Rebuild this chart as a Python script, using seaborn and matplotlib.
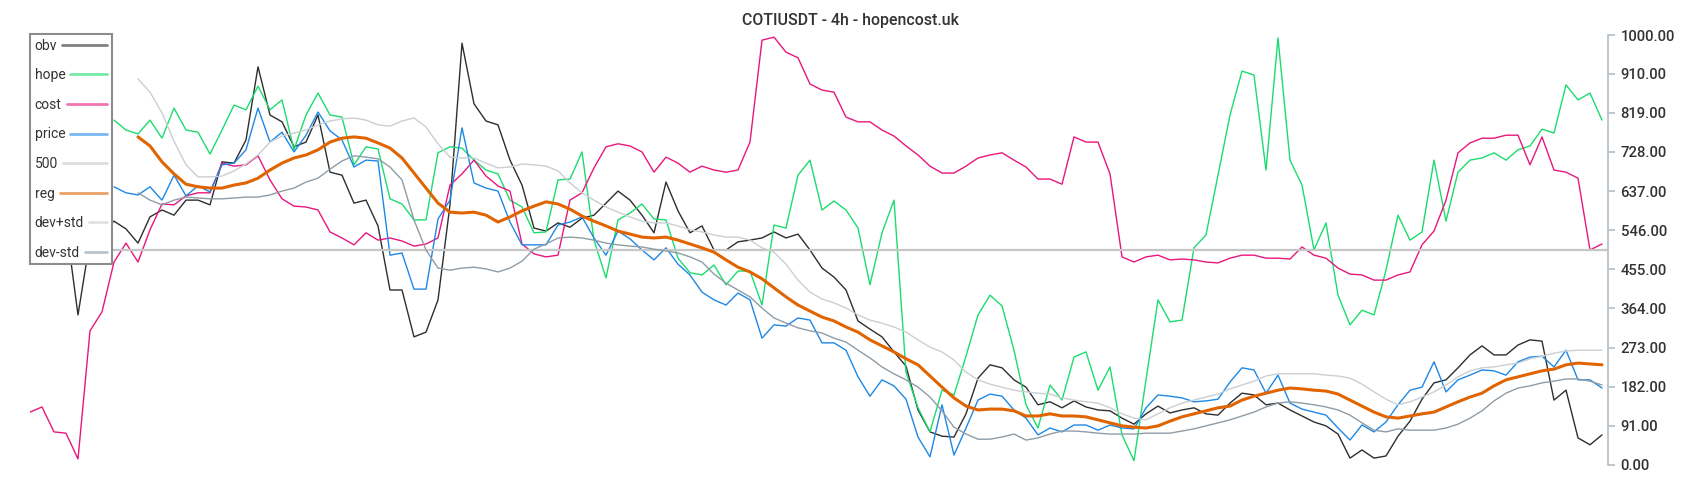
import numpy as np
import pandas as pd
import seaborn as sns
import matplotlib.pyplot as plt

# values, one sample per ~12px of time axis
cost = [123, 135, 77, 74, 14, 312, 356, 472, 516, 472, 547, 607,
        605, 626, 633, 633, 702, 695, 698, 719, 663, 619, 602, 600,
        593, 542, 528, 512, 540, 523, 528, 521, 509, 514, 528, 651,
        677, 709, 672, 649, 637, 514, 491, 484, 488, 616, 633, 691,
        740, 747, 742, 728, 681, 716, 702, 681, 695, 686, 681, 686,
        751, 988, 995, 960, 947, 886, 872, 867, 809, 798, 798, 779,
        765, 742, 721, 695, 679, 679, 695, 714, 721, 726, 709, 693,
        665, 665, 653, 763, 751, 751, 677, 484, 472, 484, 488, 477,
        479, 477, 472, 470, 481, 488, 488, 481, 481, 479, 507, 488,
        481, 458, 444, 442, 430, 430, 442, 449, 512, 544, 616, 726,
        749, 760, 760, 767, 767, 698, 763, 686, 681, 667, 500, 514]

hope = [None] * 7 + [
        802, 779, 770, 802, 760,
        830, 779, 774, 723, 779, 837, 826, 881, 826, 849, 733, 814,
        865, 814, 809, 698, 740, 735, 619, 607, 570, 570, 726, 740,
        737, 709, 686, 677, 616, 600, 540, 542, 663, 665, 728, 523,
        435, 570, 586, 607, 572, 570, 481, 447, 442, 465, 419, 451,
        451, 372, 558, 551, 674, 709, 593, 614, 593, 551, 419, 540,
        616, 216, 133, 77, 174, 163, 253, 349, 395, 370, 267, 140,
        86, 186, 151, 251, 263, 174, 228, 70, 10, 198, 384, 333,
        337, 505, 535, 674, 814, 916, 907, 686, 993, 709, 651, 500,
        563, 395, 326, 360, 349, 453, 581, 523, 542, 709, 567, 681,
        709, 714, 726, 709, 733, 742, 781, 772, 884, 849, 865, 802]

price = [None] * 7 + [
        647, 633, 628, 647, 616,
        674, 626, 649, 635, 698, 702, 733, 830, 751, 774, 728, 767,
        821, 777, 756, 693, 709, 707, 488, 493, 409, 409, 572, 616,
        784, 656, 644, 637, 565, 512, 512, 512, 558, 565, 577, 528,
        488, 544, 526, 500, 477, 505, 467, 442, 402, 384, 372, 400,
        384, 295, 326, 323, 342, 337, 284, 284, 267, 205, 160, 198,
        184, 153, 65, 19, 140, 23, 86, 151, 165, 160, 128, 109,
        70, 86, 77, 93, 93, 81, 93, 86, 84, 133, 163, 160,
        156, 147, 149, 153, 193, 226, 221, 167, 209, 144, 130, 123,
        116, 86, 58, 93, 77, 100, 140, 174, 181, 240, 170, 198,
        209, 221, 219, 209, 240, 251, 253, 228, 267, 198, 198, 179]

obv = [None, None, None, 560, 349, 523, 547, 567, 549, 516, 577, 593,
       581, 616, 616, 605, 705, 702, 756, 926, 814, 798, 740, 751,
       814, 681, 674, 609, 616, 556, 407, 407, 298, 309, 384, 605,
       981, 840, 800, 791, 709, 651, 551, 544, 563, 553, 574, 581,
       609, 637, 616, 581, 540, 658, 591, 540, 556, 500, 500, 519,
       523, 528, 542, 528, 537, 500, 458, 437, 407, 335, 316, 298,
       263, 230, 128, 77, 67, 65, 119, 202, 233, 226, 198, 181,
       140, 147, 133, 149, 135, 128, 126, 109, 95, 119, 137, 121,
       128, 133, 119, 116, 144, 167, 163, 140, 144, 128, 114, 100,
       91, 72, 16, 35, 16, 21, 67, 102, 153, 191, 198, 226,
       256, 277, 256, 256, 279, 291, 288, 151, 174, 63, 47, 70]

reg = [None] * 9 + [
       763, 742, 705,
       677, 653, 647, 644, 644, 651, 656, 667, 686, 702, 714, 721,
       733, 751, 760, 763, 760, 749, 737, 714, 679, 644, 609, 588,
       586, 588, 581, 565, 577, 591, 602, 612, 607, 595, 579, 567,
       556, 544, 537, 530, 528, 530, 523, 514, 505, 495, 477, 460,
       449, 433, 412, 391, 372, 358, 344, 335, 321, 309, 291, 277,
       263, 247, 233, 207, 181, 156, 137, 128, 130, 130, 126, 114,
       114, 119, 114, 114, 112, 105, 98, 91, 88, 86, 91, 102,
       112, 119, 126, 133, 137, 151, 160, 167, 174, 179, 177, 174,
       172, 165, 151, 137, 123, 112, 109, 114, 119, 123, 135, 147,
       158, 167, 184, 198, 205, 212, 219, 223, 233, 237, 235, 233]

dev_plus = [None] * 9 + [
       898, 867, 819,
       753, 698, 670, 670, 672, 684, 700, 721, 751, 765, 772, 779,
       791, 800, 805, 807, 802, 791, 788, 800, 807, 786, 747, 716,
       714, 714, 702, 691, 693, 700, 698, 695, 684, 656, 633, 616,
       600, 588, 577, 567, 563, 563, 556, 547, 542, 535, 530, 530,
       523, 505, 495, 467, 430, 402, 386, 377, 365, 349, 337, 330,
       321, 309, 291, 274, 263, 244, 216, 198, 188, 181, 174, 170,
       167, 165, 156, 151, 147, 144, 133, 119, 109, 105, 119, 133,
       144, 151, 158, 165, 177, 186, 195, 207, 212, 212, 212, 212,
       209, 207, 202, 188, 170, 153, 140, 147, 158, 170, 186, 205,
       219, 226, 228, 233, 237, 247, 253, 260, 265, 267, 267, 267]

dev_minus = [None] * 9 + [
       633, 616, 605,
       616, 623, 621, 619, 619, 621, 623, 623, 628, 637, 644, 658,
       667, 688, 707, 719, 716, 712, 693, 663, 570, 500, 458, 453,
       458, 460, 456, 449, 458, 474, 502, 514, 528, 530, 528, 523,
       516, 512, 509, 507, 502, 498, 493, 484, 472, 444, 423, 407,
       391, 365, 342, 330, 319, 312, 307, 295, 286, 267, 249, 228,
       212, 198, 181, 158, 126, 88, 72, 60, 60, 65, 72, 58,
       63, 72, 79, 79, 77, 74, 72, 72, 72, 74, 74, 74,
       79, 84, 91, 98, 105, 114, 123, 135, 144, 147, 144, 140,
       135, 128, 116, 98, 81, 77, 84, 81, 81, 81, 86, 95,
       109, 126, 149, 167, 179, 184, 191, 195, 200, 200, 195, 186]

level_500 = 500
y_ticks = [0, 91, 182, 273, 364, 455, 546, 637, 728, 819, 910, 1000]
title = "COTIUSDT - 4h - hopencost.uk"

df = pd.DataFrame({
    "t": np.arange(len(cost)),
    "obv": np.array(obv, dtype=float),
    "hope": np.array(hope, dtype=float),
    "cost": np.array(cost, dtype=float),
    "price": np.array(price, dtype=float),
    "reg": np.array(reg, dtype=float),
    "dev+std": np.array(dev_plus, dtype=float),
    "dev-std": np.array(dev_minus, dtype=float),
})

sns.set_style("white")
plt.rcParams["font.family"] = ["Roboto", "DejaVu Sans"]

fig = plt.figure(figsize=(17, 5), dpi=100)
ax = fig.add_axes([30 / 1700, 35 / 500, 1578 / 1700, 430 / 500])

colors = {
    "obv": "#2e2e2e",
    "hope": "#1bdc6e",
    "cost": "#e8177c",
    "price": "#1e88e5",
    "500": "#c6c6c6",
    "reg": "#e06400",
    "dev+std": "#c9cfd4",
    "dev-std": "#8f9ca6",
}

for name in ["obv", "hope", "cost", "price"]:
    sns.lineplot(data=df, x="t", y=name, ax=ax, color=colors[name], lw=1.0,
                 label=name)
ax.axhline(level_500, color=colors["500"], lw=1.6, label="500")
sns.lineplot(data=df, x="t", y="reg", ax=ax, color=colors["reg"], lw=2.2,
             label="reg")
for name in ["dev+std", "dev-std"]:
    sns.lineplot(data=df, x="t", y=name, ax=ax, color=colors[name], lw=1.0,
                 label=name)

ax.set_xlim(0, 131.5)
ax.set_ylim(0, 1000)
ax.set_xlabel("")
ax.set_ylabel("")
ax.set_xticks([])
ax.yaxis.tick_right()
ax.set_yticks(y_ticks)
ax.set_yticklabels([f"{v:.2f}" for v in y_ticks], fontweight="medium")
ax.tick_params(axis="y", length=5, width=1.2, color="#b3bec6", pad=4,
               labelsize=10.7, labelcolor="#333333")
for s in ["left", "top", "bottom"]:
    ax.spines[s].set_visible(False)
ax.spines["right"].set_color("#b3bec6")
ax.spines["right"].set_linewidth(1.2)

fig.text(850 / 1700, 1 - 20 / 500, title, ha="center", va="center",
         fontsize=11.4, fontweight="medium", color="#333333")

order = ["obv", "hope", "cost", "price", "500", "reg", "dev+std", "dev-std"]
h, l = ax.get_legend_handles_labels()
hd = dict(zip(l, h))
leg = ax.legend([hd[k] for k in order], order, loc="upper left",
                bbox_to_anchor=(30 / 1700, 1 - 34 / 500),
                bbox_transform=fig.transFigure, borderaxespad=0,
                markerfirst=False, fancybox=False, framealpha=1,
                fontsize=10, labelspacing=1.12, handlelength=1.2,
                handletextpad=0.45, borderpad=0.34)
leg.get_frame().set_edgecolor("#8c8c8c")
leg.get_frame().set_linewidth(1.5)
for t in leg.get_texts():
    t.set_color("#333333")
# left-align the labels, let each swatch run to the right edge
leg._legend_handle_box.get_children()[0].align = "left"
fig.canvas.draw()
renderer = fig.canvas.get_renderer()
lines = leg.get_lines()
right = max(ln.get_transform().transform((ln.get_xdata()[-1], 0))[0]
            for ln in lines)
for txt, ln in zip(leg.get_texts(), lines):
    x0 = txt.get_window_extent(renderer).x1 + 5
    inv = ln.get_transform().inverted()
    xa = inv.transform((x0, 0))[0]
    xb = inv.transform((right, 0))[0]
    ln.set_xdata(np.linspace(xa, xb, 3))
    ln.set_alpha(0.6)
    ln.set_linewidth(2.0)

fig.savefig("out.png", dpi=100, facecolor="white")
